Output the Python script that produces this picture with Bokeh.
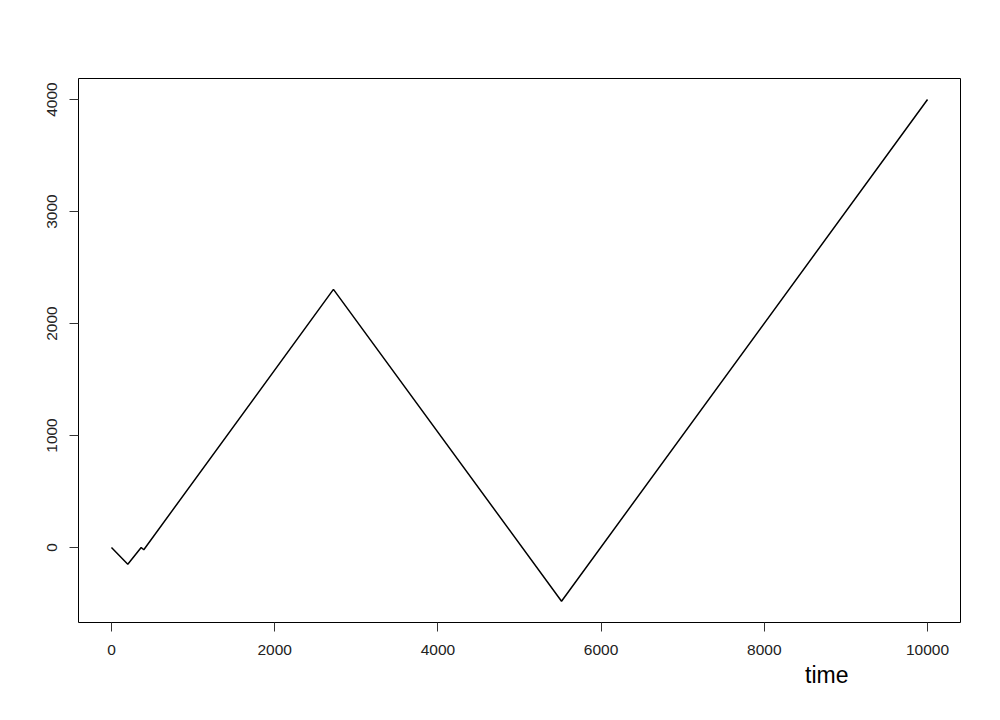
from bokeh.plotting import figure
from bokeh.models import Range1d, FixedTicker, Title
from bokeh.embed import file_html
from bokeh.resources import INLINE

time_pts = [0, 200, 364, 396, 2720, 5515, 10000]
value_pts = [0, -150, 0, -20, 2305, -480, 4000]
x_ticks = [0, 2000, 4000, 6000, 8000, 10000]
y_ticks = [0, 1000, 2000, 3000, 4000]

p = figure(width=985, height=705, output_backend="svg", toolbar_location=None,
           x_range=Range1d(-404, 10404), y_range=Range1d(-670, 4188),
           min_border_left=78, min_border_right=25, min_border_top=78, min_border_bottom=83)
p.background_fill_color = "white"
p.border_fill_color = "white"
p.outline_line_color = "black"
p.outline_line_width = 1
p.grid.visible = False

p.line(time_pts, value_pts, line_color="black", line_width=1.5)

for ax, ticks in ((p.xaxis, x_ticks), (p.yaxis, y_ticks)):
    ax.ticker = FixedTicker(ticks=ticks)
    ax.minor_tick_line_color = None
    ax.major_tick_in = 0
    ax.major_tick_out = 9
    ax.major_tick_line_color = "#333333"
    ax.axis_line_color = None
    ax.major_label_text_font = "Liberation Sans"
    ax.major_label_text_font_size = "15.5px"
    ax.major_label_text_color = "#222222"

p.xaxis.major_label_standoff = 13
p.yaxis.major_label_standoff = 12
p.yaxis.major_label_orientation = "vertical"

p.add_layout(Title(text="time", align="right", offset=112, text_font="Liberation Sans",
                   text_font_size="23px", text_font_style="normal", text_color="black",
                   standoff=4), "below")

open("out.html", "w").write(file_html(p, INLINE))
